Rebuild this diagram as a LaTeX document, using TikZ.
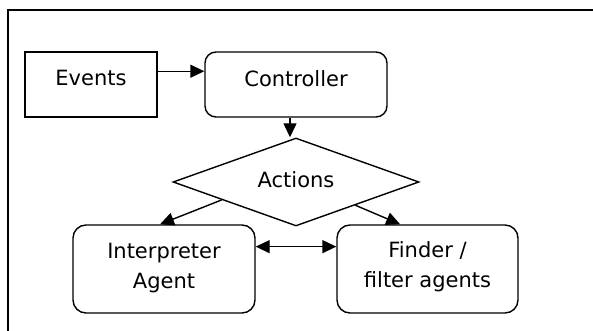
\documentclass[tikz,border=0pt]{standalone}
\usepackage{fontspec}
\setmainfont{DejaVu Sans}
\usetikzlibrary{shapes.geometric,arrows.meta,calc}

\tikzset{
  flowline/.style={line width=1.4pt},
  boxbase/.style={draw, flowline, inner sep=0pt},
  sqbox/.style={boxbase, rectangle},
  rbox/.style={boxbase, rectangle, rounded corners=13pt},
  decision/.style={boxbase, diamond, aspect=2.8},
  caption/.style={font=\fontsize{21}{30}\selectfont, align=center, inner sep=0pt},
  link/.style={flowline, -{Triangle[length=14pt,width=13pt]}},
  duplex/.style={flowline, {Triangle[length=14pt,width=13pt]}-{Triangle[length=14pt,width=13pt]}},
  frame/.style={line width=1.9pt}
}

\begin{document}
\begin{tikzpicture}[x=1pt, y=-1pt]
  \useasboundingbox (0,0) rectangle (593,331);

  % enclosing frame (only its top and left sides fall inside the page)
  \coordinate (fTL) at (8,10);
  \coordinate (fTR) at (593,10);
  \coordinate (fBL) at (8,331);
  \draw[frame] (fTR) -- (fTL) -- (fBL);

  % boxes
  \node[sqbox, minimum width=132pt, minimum height=65pt] (ev)  at (91,84.5) {};
  \node[rbox,  minimum width=182pt, minimum height=65pt, rounded corners=11pt] (ctl) at (296,84.5) {};
  \node[decision, minimum width=246pt, minimum height=88pt, caption] (act) at (296,182) {};
  \node[rbox,  minimum width=182pt, minimum height=88pt] (ia)  at (164,269) {};
  \node[rbox,  minimum width=181pt, minimum height=88pt] (fn)  at (427.5,269) {};

  % labels
  \node[caption] (evT)  at (91,78)    {Events};
  \node[caption] (ctlT) at (296,79)   {Controller};
  \node[caption] (actT) at (296,180)  {Actions};
  \node[caption] (iaT)  at (164,268)  {Interpreter\\Agent};
  \node[caption] (fnT)  at (427.5,267) {Finder /\\filter agents};

  % connectors
  \draw[link] ($(ev.north east)!0.3!(ev.south east)$) -- ($(ctl.north west)!0.3!(ctl.south west)$);
  \draw[link] ([xshift=-6pt]ctl.south) -- ([xshift=-6pt]ctl.south |- act.north);
  \draw[link] ($(act.west)!0.4!(act.south)$) -- ([xshift=-4pt]ia.north);
  \draw[link] ($(act.south)!0.48!(act.east)$) -- ($(fn.north west)!0.35!(fn.north east)$);
  \draw[duplex] ($(ia.north east)!0.25!(ia.south east)$) -- ($(fn.north west)!0.25!(fn.south west)$);
\end{tikzpicture}
\end{document}
